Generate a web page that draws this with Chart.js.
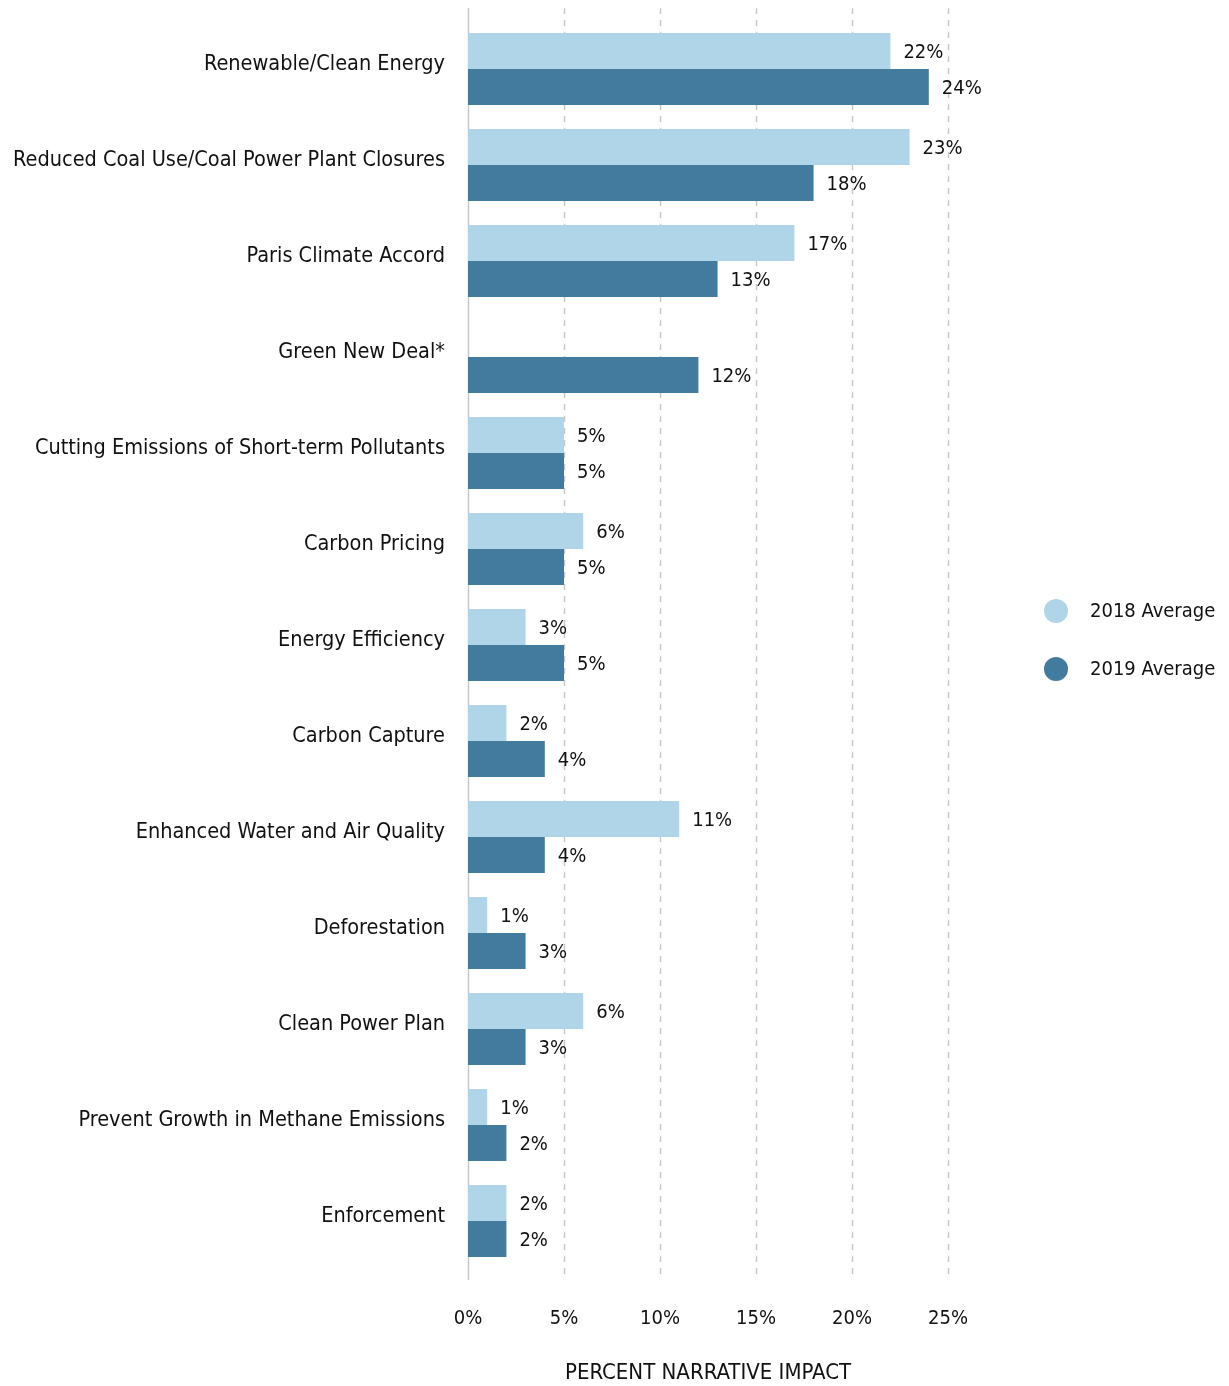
<!DOCTYPE html>
<html><head><meta charset="utf-8">
<script src="https://cdn.jsdelivr.net/npm/chart.js@4/dist/chart.umd.min.js"></script>
<style>html,body{margin:0;padding:0;background:#fff}#wrap{width:1229px;height:1386px;position:relative}</style>
</head><body><div id="wrap"><canvas id="c"></canvas></div>
<script>
const categories = ["Renewable/Clean Energy","Reduced Coal Use/Coal Power Plant Closures","Paris Climate Accord","Green New Deal*","Cutting Emissions of Short-term Pollutants","Carbon Pricing","Energy Efficiency","Carbon Capture","Enhanced Water and Air Quality","Deforestation","Clean Power Plan","Prevent Growth in Methane Emissions","Enforcement"];
const avg2018 = [22,23,17,null,5,6,3,2,11,1,6,1,2];
const avg2019 = [24,18,13,12,5,5,5,4,4,3,3,2,2];
const seriesNames = ["2018 Average","2019 Average"];
const xTicks = [0,5,10,15,20,25];
const FONT = "'Liberation Sans Narrow','DejaVu Sans Condensed','Roboto Condensed',sans-serif";
const C1 = "#b0d5e9", C2 = "#437b9e";

const gridPlugin = {
  id:'grid',
  beforeDatasetsDraw(chart){
    const {ctx, chartArea:a, scales:{x}} = chart;
    ctx.save();
    ctx.lineWidth = 1.5;
    xTicks.forEach(v=>{
      const px = Math.round(x.getPixelForValue(v))+0.5;
      ctx.strokeStyle = '#c8c8c8';
      ctx.setLineDash(v===0 ? [] : [6,6]);
      ctx.beginPath(); ctx.moveTo(px, a.top-13); ctx.lineTo(px, a.bottom+11); ctx.stroke();
    });
    ctx.restore();
  }
};
const labelPlugin = {
  id:'vals',
  afterDatasetsDraw(chart){
    const ctx = chart.ctx;
    ctx.save();
    ctx.font = "20px "+FONT;
    ctx.fillStyle = '#111';
    ctx.textAlign='left'; ctx.textBaseline='middle';
    chart.data.datasets.forEach((ds,i)=>{
      chart.getDatasetMeta(i).data.forEach((bar,j)=>{
        const v = ds.data[j];
        if(v===null||v===undefined) return;
        ctx.fillText(v+'%', bar.x+13, bar.y+2);
      });
    });
    ctx.restore();
  }
};
const legendPlugin = {
  id:'leg',
  afterDraw(chart){
    const ctx = chart.ctx;
    ctx.save();
    ctx.font = "20px "+FONT;
    ctx.textAlign='left'; ctx.textBaseline='middle';
    [C1,C2].forEach((c,i)=>{
      const y = 611 + i*58;
      ctx.fillStyle = c;
      ctx.beginPath(); ctx.arc(1056, y, 12, 0, Math.PI*2); ctx.fill();
      ctx.fillStyle = '#111';
      ctx.fillText(seriesNames[i], 1090, y+1);
    });
    ctx.restore();
  }
};

new Chart(document.getElementById('c'), {
  type:'bar',
  data:{labels:categories, datasets:[
    {label:seriesNames[0], data:avg2018, backgroundColor:C1, categoryPercentage:0.75, barPercentage:1},
    {label:seriesNames[1], data:avg2019, backgroundColor:C2, categoryPercentage:0.75, barPercentage:1}
  ]},
  options:{
    indexAxis:'y', responsive:true, maintainAspectRatio:false, animation:false,
    devicePixelRatio:1,
    layout:{padding:{top:21,right:281,left:0,bottom:0}},
    plugins:{legend:{display:false}, tooltip:{enabled:false}},
    scales:{
      x:{min:0,max:25, border:{display:false}, grid:{display:false, drawTicks:false},
        afterFit(s){ s.height = 117; s.paddingLeft = 0; s.paddingRight = 0; },
        afterBuildTicks(s){ s.ticks = xTicks.map(v=>({value:v})); },
        ticks:{padding:38, color:'#111', font:{family:FONT,size:20}, callback:v=>v+'%'},
        title:{display:true, text:'PERCENT NARRATIVE IMPACT', color:'#111', font:{family:FONT,size:22}, padding:{top:0,bottom:0}}
      },
      y:{border:{display:false}, grid:{display:false, drawTicks:false},
        afterFit(s){ s.width = 468; s.paddingTop = 0; s.paddingBottom = 0; },
        ticks:{padding:23, labelOffset:-5, color:'#111', font:{family:FONT,size:21.5}}
      }
    }
  },
  plugins:[gridPlugin,labelPlugin,legendPlugin]
});
</script></body></html>
